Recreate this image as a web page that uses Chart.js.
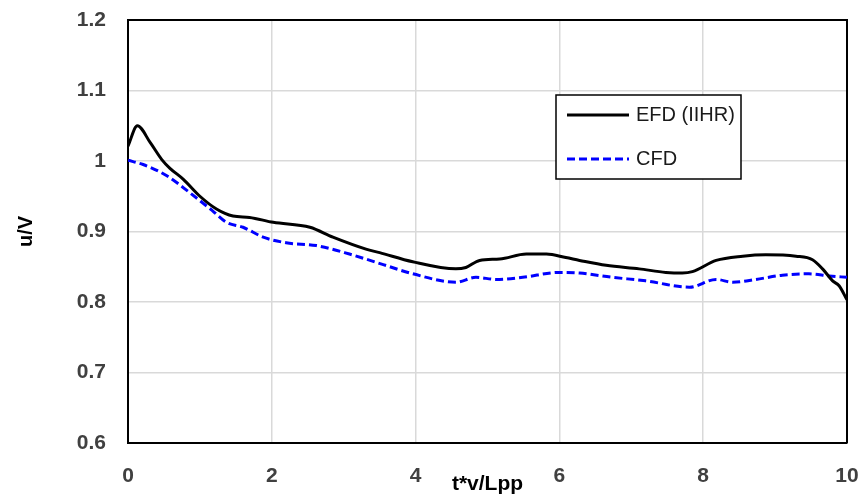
<!DOCTYPE html>
<html>
<head>
<meta charset="utf-8">
<script src="https://cdn.jsdelivr.net/npm/chart.js@4/dist/chart.umd.min.js"></script>
<style>
    html, body { margin: 0; padding: 0; background: #fff; }
    .chart { width: 863px; height: 497px; }
</style>
</head>
<body>
<div class="chart"><canvas id="myChart"></canvas></div>
<script>
// EFD (IIHR) measurement
const efdX = [0, 0.13, 0.31, 0.47, 0.58, 0.77, 1.0, 1.23, 1.46, 1.69, 2.02, 2.53, 2.85, 3.31, 3.5, 3.96,
    4.56, 4.70, 4.89, 5.17, 5.54, 5.82, 6.09, 6.28, 6.65, 7.11, 7.48, 7.71, 7.85, 8.18, 8.55,
    8.87, 9.29, 9.52, 9.66, 9.80, 9.89, 10.0];
const efdY = [1.021, 1.050, 1.026, 1.002, 0.990, 0.974, 0.950, 0.932, 0.922, 0.920, 0.913, 0.906, 0.892, 0.875, 0.870, 0.857,
    0.847, 0.849, 0.859, 0.861, 0.868, 0.868, 0.863, 0.859, 0.852, 0.847, 0.842, 0.841, 0.843, 0.859, 0.865,
    0.867, 0.865, 0.860, 0.847, 0.830, 0.823, 0.803];

// CFD result
const cfdX = [0, 0.21, 0.54, 0.86, 1.18, 1.37, 1.60, 1.88, 2.20, 2.62, 3.08, 3.55, 3.96, 4.56, 4.84,
    5.12, 5.49, 6.0, 6.28, 6.74, 7.20, 7.81, 8.18, 8.41, 8.73, 9.10, 9.47, 9.75, 10.0];
const cfdY = [1.001, 0.995, 0.979, 0.955, 0.929, 0.913, 0.906, 0.892, 0.884, 0.880, 0.868, 0.853, 0.840, 0.828, 0.835,
    0.832, 0.835, 0.842, 0.841, 0.835, 0.830, 0.821, 0.832, 0.828, 0.832, 0.838, 0.840, 0.837, 0.835];

const seriesLabels = ['EFD (IIHR)', 'CFD'];
const xTicks = [0, 2, 4, 6, 8, 10];
const yTicks = [0.6, 0.7, 0.8, 0.9, 1.0, 1.1, 1.2];

const FONT = '"Liberation Sans", Arial, sans-serif';

function toPoints(xs, ys) {
    return xs.map((x, i) => ({ x: x, y: ys[i] }));
}

// legend box drawn inside the plot
const boxLegend = {
    id: 'boxLegend',
    afterDatasetsDraw(chart) {
        const ctx = chart.ctx;
        const left = 556, top = 95, w = 185, h = 84;
        ctx.save();
        ctx.fillStyle = '#fff';
        ctx.fillRect(left, top, w, h);
        ctx.lineWidth = 1.5;
        ctx.strokeStyle = '#000';
        ctx.strokeRect(left, top, w, h);
        ctx.font = '20px ' + FONT;
        ctx.textBaseline = 'middle';
        chart.data.datasets.forEach((ds, i) => {
            const y = top + 20 + i * 44;
            ctx.beginPath();
            ctx.strokeStyle = ds.borderColor;
            ctx.lineWidth = ds.borderWidth;
            ctx.setLineDash(ds.borderDash || []);
            ctx.moveTo(left + 11, y);
            ctx.lineTo(left + 73, y);
            ctx.stroke();
            ctx.setLineDash([]);
            ctx.fillStyle = '#1a1a1a';
            ctx.fillText(ds.label, left + 80, y);
        });
        ctx.restore();
    }
};

// top and right frame of the plot area
const frame = {
    id: 'frame',
    beforeDatasetsDraw(chart) {
        const a = chart.chartArea;
        const ctx = chart.ctx;
        ctx.save();
        ctx.strokeStyle = '#000';
        ctx.lineWidth = 2;
        ctx.beginPath();
        ctx.moveTo(a.left, a.top);
        ctx.lineTo(a.right, a.top);
        ctx.lineTo(a.right, a.bottom);
        ctx.stroke();
        ctx.restore();
    }
};

const data = {
    datasets: [{
        label: seriesLabels[0],
        data: toPoints(efdX, efdY),
        borderColor: '#000000',
        borderWidth: 3,
        showLine: true,
        pointRadius: 0,
        cubicInterpolationMode: 'monotone'
    }, {
        label: seriesLabels[1],
        data: toPoints(cfdX, cfdY),
        borderColor: '#0000ff',
        borderWidth: 3,
        borderDash: [8, 4],
        showLine: true,
        pointRadius: 0,
        cubicInterpolationMode: 'monotone'
    }]
};

const config = {
    type: 'scatter',
    data: data,
    options: {
        responsive: true,
        maintainAspectRatio: false,
        animation: false,
        layout: { padding: { top: 20, right: 16, left: 0, bottom: 0 } },
        plugins: {
            legend: { display: false },
            tooltip: { enabled: false }
        },
        scales: {
            x: {
                type: 'linear',
                min: 0,
                max: 10,
                afterBuildTicks: (scale) => { scale.ticks = xTicks.map(v => ({ value: v })); },
                afterFit: (scale) => {
                    scale.height = 54;
                    scale.paddingLeft = 0;
                    scale.paddingRight = 0;
                },
                grid: { color: '#d9d9d9', lineWidth: 1.5, drawTicks: false },
                border: { color: '#000', width: 2 },
                ticks: {
                    padding: 21,
                    color: '#404040',
                    font: { family: FONT, size: 21, weight: 'bold' }
                },
                title: {
                    display: true,
                    text: 't*v/Lpp',
                    color: '#000',
                    padding: { top: 0, bottom: 0 },
                    font: { family: FONT, size: 21, weight: 'bold' }
                }
            },
            y: {
                min: 0.6,
                max: 1.2,
                afterBuildTicks: (scale) => { scale.ticks = yTicks.map(v => ({ value: v })); },
                afterFit: (scale) => {
                    scale.width = 128;
                    scale.paddingTop = 0;
                    scale.paddingBottom = 0;
                },
                grid: { color: '#d9d9d9', lineWidth: 1.5, drawTicks: false },
                border: { color: '#000', width: 2 },
                ticks: {
                    padding: 22,
                    color: '#404040',
                    font: { family: FONT, size: 21, weight: 'bold' },
                    callback: (v) => String(Number(v.toFixed(1)))
                },
                title: {
                    display: true,
                    text: 'u/V',
                    color: '#000',
                    padding: { top: 14, bottom: 0 },
                    font: { family: FONT, size: 20, weight: 'bold' }
                }
            }
        }
    },
    plugins: [frame, boxLegend]
};

const myChart = new Chart(document.getElementById('myChart'), config);
</script>
</body>
</html>
